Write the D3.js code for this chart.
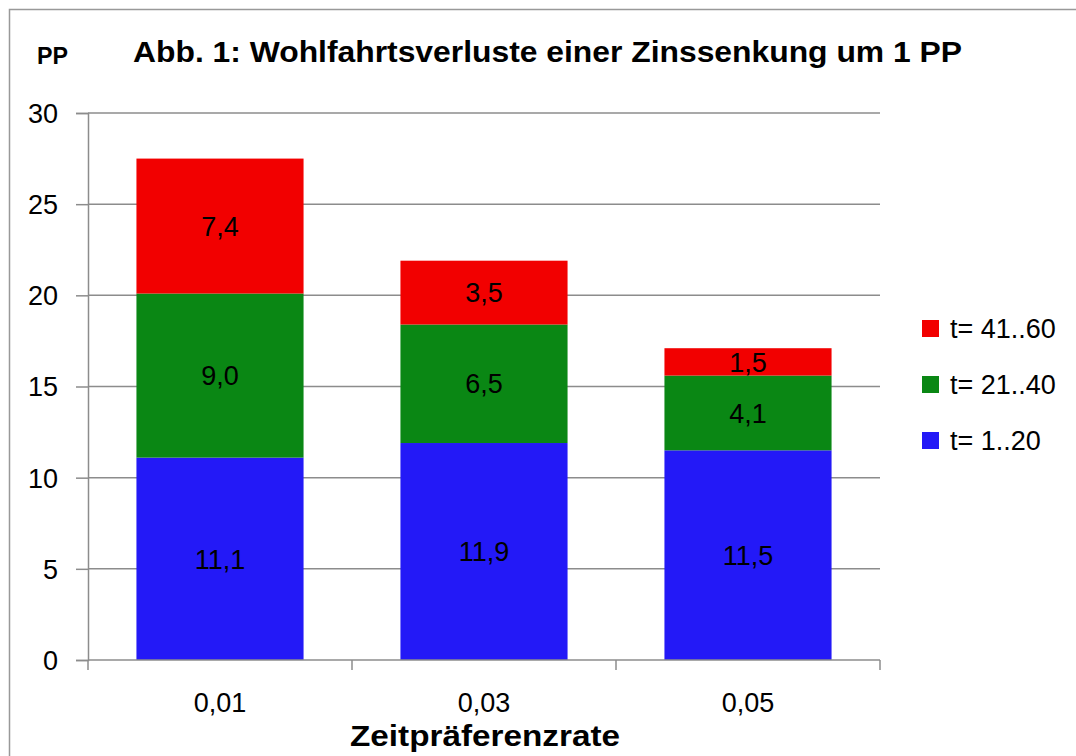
<!DOCTYPE html>
<html><head><meta charset="utf-8">
<script src="https://cdn.jsdelivr.net/npm/d3@7"></script>
<style>body{margin:0;background:#fff}svg{display:block}</style>
</head><body>
<script>
const categories = ["0,01", "0,03", "0,05"];
const seriesNames = ["t= 1..20", "t= 21..40", "t= 41..60"];
const s1 = [11.1, 11.9, 11.5];
const s2 = [9.0, 6.5, 4.1];
const s3 = [7.4, 3.5, 1.5];
const yTicks = [0, 5, 10, 15, 20, 25, 30];
const colors = ["#2319F7", "#0A8714", "#F20000"];
const titleText = "Abb. 1: Wohlfahrtsverluste einer Zinssenkung um 1 PP";
const yUnit = "PP";
const xTitle = "Zeitpräferenzrate";

const W = 1076, H = 756;
const font = "'Liberation Sans', Arial, sans-serif";
const svg = d3.select("body").append("svg").attr("width", W).attr("height", H);

svg.append("rect").attr("x", 9.5).attr("y", 9.5).attr("width", 1100).attr("height", 800)
  .attr("fill", "#fff").attr("stroke", "#999").attr("stroke-width", 1.5);

const L = 88, R = 880, T = 113, B = 660;
const x = d3.scaleBand().domain(categories).range([L, R]).paddingInner(0.367).paddingOuter(0.1835);
const y = d3.scaleLinear().domain([0, 30]).range([B, T]);

// gridlines
svg.append("g").selectAll("line").data(yTicks.filter(d => d > 0)).join("line")
  .attr("x1", L).attr("x2", R).attr("y1", d => y(d)).attr("y2", d => y(d))
  .attr("stroke", "#8c8c8c").attr("stroke-width", 1.5);

// y axis
const yAxis = svg.append("g").attr("transform", `translate(${L},0)`)
  .call(d3.axisLeft(y).tickValues(yTicks).tickSize(12).tickPadding(18).tickFormat(d => d));
yAxis.select(".domain").attr("stroke", "#8c8c8c").attr("stroke-width", 1.5);
yAxis.selectAll(".tick line").attr("stroke", "#8c8c8c").attr("stroke-width", 1.5);
yAxis.selectAll("text").attr("font-family", font).attr("font-size", 27).attr("fill", "#000").attr("dy", "0.35em");

// stacked data
const rows = categories.map((c, i) => ({cat: c, a: s1[i], b: s2[i], c3: s3[i]}));
const stack = d3.stack().keys(["a", "b", "c3"])(rows);

const g = svg.append("g");
stack.forEach((layer, li) => {
  g.append("g").selectAll("rect").data(layer).join("rect")
    .attr("x", d => x(d.data.cat)).attr("width", x.bandwidth())
    .attr("y", d => y(d[1])).attr("height", d => y(d[0]) - y(d[1]))
    .attr("fill", colors[li]);
});
stack.forEach((layer, li) => {
  g.append("g").selectAll("text").data(layer).join("text")
    .attr("x", d => x(d.data.cat) + x.bandwidth() / 2)
    .attr("y", d => (y(d[0]) + y(d[1])) / 2)
    .attr("dy", "0.36em")
    .attr("text-anchor", "middle").attr("font-family", font).attr("font-size", 27).attr("fill", "#000")
    .text(d => d3.format(".1f")(d[1] - d[0]).replace(".", ","));
});

// x axis
const xAxisG = svg.append("g");
xAxisG.append("line").attr("x1", L).attr("x2", R).attr("y1", B).attr("y2", B)
  .attr("stroke", "#8c8c8c").attr("stroke-width", 1.5);
const bounds = [L, ...categories.map(c => x(c) + x.bandwidth() + x.step() * x.paddingInner() / 2)];
xAxisG.selectAll("line.tk").data(bounds).join("line").attr("class", "tk")
  .attr("x1", d => d).attr("x2", d => d).attr("y1", B).attr("y2", B + 10)
  .attr("stroke", "#8c8c8c").attr("stroke-width", 1.5);
xAxisG.selectAll("text").data(categories).join("text")
  .attr("x", d => x(d) + x.bandwidth() / 2).attr("y", 712)
  .attr("text-anchor", "middle").attr("font-family", font).attr("font-size", 27).attr("fill", "#000")
  .text(d => d);

// titles
svg.append("text").attr("x", 133).attr("y", 62).attr("font-family", font).attr("font-weight", "bold")
  .attr("font-size", 30).attr("textLength", 829).attr("lengthAdjust", "spacingAndGlyphs").text(titleText);
svg.append("text").attr("x", 37).attr("y", 64).attr("font-family", font).attr("font-weight", "bold")
  .attr("font-size", 24).attr("textLength", 31).attr("lengthAdjust", "spacingAndGlyphs").text(yUnit);
svg.append("text").attr("x", 350).attr("y", 746).attr("font-family", font).attr("font-weight", "bold")
  .attr("font-size", 30).attr("textLength", 270).attr("lengthAdjust", "spacingAndGlyphs").text(xTitle);

// legend
const legendOrder = [2, 1, 0];
const lg = svg.append("g");
legendOrder.forEach((si, k) => {
  const cy = 328.5 + k * 56;
  lg.append("rect").attr("x", 922).attr("y", cy - 8.5).attr("width", 17).attr("height", 17).attr("fill", colors[si]);
  lg.append("text").attr("x", 950).attr("y", cy).attr("dy", "0.36em").attr("font-family", font)
    .attr("font-size", 27).attr("fill", "#000").text(seriesNames[si]);
});
</script>
</body></html>
